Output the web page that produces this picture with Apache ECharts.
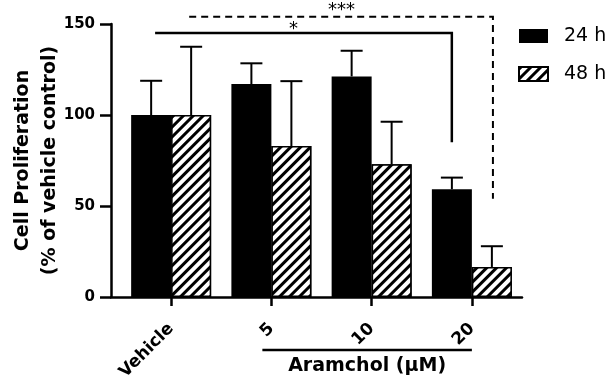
<!DOCTYPE html>
<html>
<head>
<meta charset="utf-8">
<script src="https://cdn.jsdelivr.net/npm/echarts@6/dist/echarts.min.js"></script>
<style>
  html, body { margin: 0; padding: 0; background: #fff; }
  #chart { width: 613px; height: 383px; }
</style>
</head>
<body>
<div id="chart"></div>
<script>
// categories on the x axis
const categories = ['Vehicle', '5', '10', '20']
const categoryPos = [0, 1, 2, 3]
// mean and SD per time point (% of vehicle control)
const mean24 = [100, 117, 121.2, 59.2]
const sd24 = [18.8, 11.4, 14.1, 6.4]
const mean48 = [100, 82.9, 73, 16.5]
const sd48 = [37.5, 35.7, 23.3, 11.4]
const yTicks = [0, 50, 100, 150]
// significance brackets (x in category units, y in % units)
const bracketFrom = [-0.16, 0.18]
const bracketTo = [2.8, 3.21]
const bracketTop = [145, 154]
const bracketDrop = [85, 54]
const bracketStars = ['*', '***']
const starAt = [1.22, 1.7]
const bracketDashed = [false, true]
// group label under the dose categories
const groupFrom = [0.91]
const groupTo = [3.0]
const groupLabel = ['Aramchol (μM)']

const FONT = 'DejaVu Sans'
const BAR_W = 40
const CAP = 22

const chart = echarts.init(document.getElementById('chart'), null, { renderer: 'canvas' })

const hatch = {
  symbol: 'rect',
  symbolSize: 1,
  dashArrayX: [1, 0],
  dashArrayY: [3, 3.5],
  rotation: -Math.PI / 4,
  color: '#000',
  backgroundColor: '#fff'
}

function errorSeries(name, means, sds, offset) {
  return {
    name: name,
    type: 'custom',
    z: 3,
    clip: false,
    encode: { x: 0, y: 1 },
    data: means.map((v, i) => [categoryPos[i], v, sds[i]]),
    renderItem(params, api) {
      const base = api.coord([api.value(0), api.value(1)])
      const top = api.coord([api.value(0), api.value(1) + api.value(2)])
      const x = base[0] + offset
      const st = { stroke: '#000', lineWidth: 2 }
      return {
        type: 'group',
        children: [
          { type: 'line', shape: { x1: x, y1: base[1], x2: x, y2: top[1] }, style: st },
          { type: 'line', shape: { x1: x - CAP / 2, y1: top[1], x2: x + CAP / 2, y2: top[1] }, style: st }
        ]
      }
    }
  }
}

const option = {
  animation: false,
  backgroundColor: '#fff',
  grid: { left: 111, right: 91, top: 24, bottom: 86, outerBoundsMode: 'none', containLabel: false },
  legend: {
    data: ['24 h', '48 h'],
    orient: 'vertical',
    left: 518,
    top: 26,
    padding: 0,
    icon: 'rect',
    itemWidth: 29,
    itemHeight: 14,
    itemGap: 18,
    textStyle: { fontFamily: FONT, fontSize: 19, color: '#000', lineHeight: 20, padding: [0, 0, 0, 11] }
  },
  xAxis: {
    type: 'value',
    min: -0.6,
    max: 3.5,
    axisLine: { show: true, onZero: false, lineStyle: { color: '#000', width: 2.5 } },
    axisTick: { show: true, customValues: categoryPos, length: 9, lineStyle: { color: '#000', width: 2.5 } },
    splitLine: { show: false },
    axisLabel: {
      customValues: categoryPos,
      formatter: v => categories[Math.round(v)],
      rotate: 45,
      margin: 29,
      color: '#000',
      fontFamily: FONT,
      fontWeight: 'bold',
      fontSize: 17
    }
  },
  yAxis: {
    type: 'value',
    min: 0,
    max: 150,
    interval: 50,
    name: 'Cell Proliferation\n(% of vehicle control)',
    nameLocation: 'middle',
    nameRotate: 90,
    nameGap: 47,
    nameMoveOverlap: false,
    nameTextStyle: { fontFamily: FONT, fontWeight: 'bold', fontSize: 19, color: '#000', lineHeight: 27 },
    axisLine: { show: true, onZero: false, lineStyle: { color: '#000', width: 2.5 } },
    axisTick: { show: true, length: 11, lineStyle: { color: '#000', width: 2.5 } },
    splitLine: { show: false },
    axisLabel: {
      margin: 16,
      color: '#000',
      fontFamily: FONT,
      fontWeight: 'bold',
      fontSize: 15,
      formatter: v => (yTicks.indexOf(v) >= 0 ? String(v) : '')
    }
  },
  series: [
    {
      name: '24 h',
      type: 'bar',
      barWidth: BAR_W,
      barGap: '0%',
      itemStyle: { color: '#000' },
      data: mean24.map((v, i) => [categoryPos[i], v])
    },
    {
      name: '48 h',
      type: 'bar',
      barWidth: BAR_W,
      barGap: '0%',
      itemStyle: { color: '#fff', borderColor: '#000', borderWidth: 1.5, decal: hatch },
      data: mean48.map((v, i) => [categoryPos[i], v])
    },
    errorSeries('err24', mean24, sd24, -BAR_W / 2),
    errorSeries('err48', mean48, sd48, BAR_W / 2),
    {
      name: 'brackets',
      type: 'custom',
      clip: false,
      z: 4,
      encode: { x: 0, y: 2 },
      data: bracketFrom.map((x, i) => [x, bracketTo[i], bracketTop[i], bracketDrop[i], starAt[i]]),
      renderItem(params, api) {
        const i = params.dataIndex
        const a = api.coord([api.value(0), api.value(2)])
        const b = api.coord([api.value(1), api.value(2)])
        const c = api.coord([api.value(1), api.value(3)])
        const s = api.coord([api.value(4), api.value(2)])
        const dashed = bracketDashed[i]
        return {
          type: 'group',
          children: [
            {
              type: 'polyline',
              shape: { points: [a, b, c] },
              style: { stroke: '#000', fill: null, lineWidth: dashed ? 2 : 2.5, lineDash: dashed ? [7, 5] : null }
            },
            {
              type: 'text',
              x: s[0],
              y: s[1] + (dashed ? 3 : 5),
              style: {
                text: bracketStars[i],
                fontFamily: FONT,
                fontSize: 18,
                fill: '#000',
                align: 'center',
                verticalAlign: 'bottom'
              }
            }
          ]
        }
      }
    },
    {
      name: 'group',
      type: 'custom',
      clip: false,
      encode: { x: 0 },
      data: groupFrom.map((x, i) => [x, groupTo[i]]),
      renderItem(params, api) {
        const a = api.coord([api.value(0), 0])
        const b = api.coord([api.value(1), 0])
        const y = a[1] + 53
        return {
          type: 'group',
          children: [
            { type: 'line', shape: { x1: a[0], y1: y, x2: b[0], y2: y }, style: { stroke: '#000', lineWidth: 2.5 } },
            {
              type: 'text',
              x: (a[0] + b[0]) / 2,
              y: y + 16,
              style: {
                text: groupLabel[params.dataIndex],
                fontFamily: FONT,
                fontWeight: 'bold',
                fontSize: 19,
                fill: '#000',
                align: 'center',
                verticalAlign: 'middle'
              }
            }
          ]
        }
      }
    }
  ]
}

chart.setOption(option)
</script>
</body>
</html>
